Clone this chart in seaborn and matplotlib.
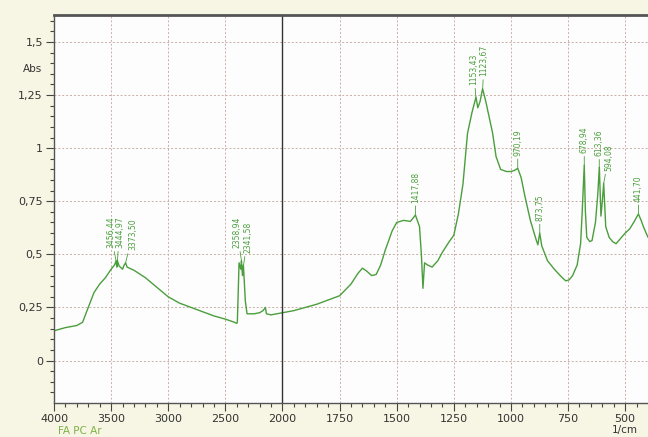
import numpy as np
import pandas as pd
import matplotlib
matplotlib.use("Agg")
import matplotlib.pyplot as plt
import seaborn as sns

# IR spectrum (wavenumber in 1/cm, absorbance)
wavenumber = [
    4000, 3900, 3800, 3750, 3700, 3650, 3600, 3550, 3500, 3470, 3456, 3450,
    3445, 3430, 3400, 3385, 3373, 3360, 3300, 3200, 3100, 3000, 2900, 2800,
    2700, 2600, 2500, 2420, 2400, 2395, 2380, 2365, 2359, 2350, 2342, 2325,
    2310, 2250, 2200, 2170, 2150, 2140, 2100, 2050, 2000, 1950, 1900, 1850,
    1800, 1750, 1700, 1670, 1650, 1630, 1610, 1590, 1570, 1550, 1520, 1500,
    1470, 1440, 1418, 1400, 1392, 1385, 1378, 1365, 1345, 1320, 1300, 1270,
    1250, 1230, 1210, 1190, 1170, 1153, 1145, 1135, 1124, 1110, 1100, 1080,
    1065, 1045, 1020, 1000, 985, 970, 955, 940, 915, 890, 882, 874, 865, 840,
    810, 780, 760, 745, 730, 710, 695, 688, 679, 674, 668, 655, 645, 630,
    620, 613, 606, 600, 594, 585, 570, 555, 540, 520, 500, 480, 460, 442,
    430, 420, 400,
]
absorbance = [
    0.14, 0.155, 0.165, 0.18, 0.25, 0.32, 0.36, 0.39, 0.43, 0.45, 0.47, 0.44,
    0.47, 0.445, 0.43, 0.45, 0.46, 0.44, 0.425, 0.39, 0.345, 0.30, 0.27, 0.25,
    0.23, 0.21, 0.195, 0.18, 0.175, 0.18, 0.46, 0.43, 0.47, 0.40, 0.45, 0.28,
    0.22, 0.22, 0.225, 0.235, 0.25, 0.22, 0.215, 0.22, 0.225, 0.235, 0.25, 0.265,
    0.285, 0.305, 0.36, 0.41, 0.435, 0.42, 0.40, 0.405, 0.45, 0.52, 0.61, 0.65,
    0.66, 0.655, 0.685, 0.63, 0.50, 0.34, 0.46, 0.45, 0.44, 0.47, 0.51, 0.56,
    0.59, 0.69, 0.83, 1.07, 1.17, 1.24, 1.19, 1.22, 1.28, 1.22, 1.17, 1.07,
    0.96, 0.90, 0.89, 0.89, 0.895, 0.905, 0.86, 0.78, 0.66, 0.57, 0.545, 0.60, 0.54, 0.47,
    0.43, 0.395, 0.375, 0.38, 0.40, 0.45, 0.55, 0.70, 0.92, 0.70, 0.58, 0.56, 0.565, 0.65,
    0.78, 0.91, 0.68, 0.75, 0.835, 0.63, 0.58, 0.56, 0.55, 0.575, 0.60, 0.62, 0.655, 0.69,
    0.66, 0.63, 0.58,
]

# labelled peaks
peak_pos = [3456.44, 3444.97, 3373.50, 2358.94, 2341.58, 1417.88, 1153.43,
            1123.67, 970.19, 873.75, 678.94, 613.36, 594.08, 441.70]
peak_text = ["3456,44", "3444,97", "3373,50", "2358,94", "2341,58", "1417,88",
             "1153,43", "1123,67", "970,19", "873,75", "678,94", "613,36",
             "594,08", "441,70"]
peak_shift = [-4, 1.5, 5, -3, 3, 0, -1.5, 1, 0, 0, 0, 0, 3.5, 0]

major_ticks = [4000, 3500, 3000, 2500, 2000, 1750, 1500, 1250, 1000, 750, 500]
y_ticks = [0, 0.25, 0.5, 0.75, 1, 1.25, 1.5]
y_labels = ["0", "0,25", "0,5", "0,75", "1", "1,25", "1,5"]

green = "#4a9e3c"
cream = "#f7f5e3"

sns.set_style("white")
plt.rcParams["font.family"] = ["DejaVu Sans"]


# spectrometer style axis: below 2000 1/cm the scale is doubled
def forward(x):
    x = np.asarray(x, dtype=float)
    return np.where(x >= 2000, x, 2 * x - 2000)


def inverse(u):
    u = np.asarray(u, dtype=float)
    return np.where(u >= 2000, u, (u + 2000) / 2)


df = pd.DataFrame({"wn": wavenumber, "abs": absorbance})

fig = plt.figure(figsize=(6.48, 4.37), dpi=100, facecolor=cream)
ax = fig.add_axes([54 / 648, 1 - 403 / 437, 594 / 648, 388 / 437])
ax.set_facecolor("#fdfdfd")

sns.lineplot(data=df, x="wn", y="abs", ax=ax, color=green, lw=1.0,
             estimator=None, sort=False)

ax.set_xscale("function", functions=(forward, inverse))
ax.set_xlim(4000, 400)
ax.set_ylim(-0.2, 1.627)

minor_x = [v for v in range(2100, 4000, 100) if v % 500] + \
          [v for v in range(450, 2000, 50) if v % 250]
ax.set_xticks(major_ticks)
ax.set_xticklabels([str(t) for t in major_ticks])
ax.set_xticks(minor_x, minor=True)
ax.set_yticks(y_ticks)
ax.set_yticklabels(y_labels)
ax.set_yticks(np.arange(-0.15, 1.65, 0.05), minor=True)

ax.tick_params(axis="both", which="major", direction="out", length=6,
               width=0.8, color="#444444", labelsize=8, labelcolor="#333333",
               bottom=True, left=True, pad=2)
ax.tick_params(axis="both", which="minor", direction="out", length=3,
               width=0.8, color="#444444", bottom=True, left=True)

ax.grid(True, which="major", linestyle=(0, (2, 2)), color="#c9aea6", lw=0.7)
ax.axvline(2000, color="#333333", lw=1.0)

for side in ["top", "left", "bottom"]:
    ax.spines[side].set_color("#555555")
ax.spines["top"].set_linewidth(2.0)
ax.spines["left"].set_linewidth(1.0)
ax.spines["bottom"].set_linewidth(1.0)
ax.spines["right"].set_visible(False)

ax.set_xlabel("")
ax.set_ylabel("")

# peak labels with leader lines
for pos, txt, dx in zip(peak_pos, peak_text, peak_shift):
    yv = np.interp(pos, wavenumber[::-1], absorbance[::-1])
    ax.annotate(txt, xy=(pos, yv), xytext=(dx, 9), textcoords="offset points",
                rotation=90, ha="center", va="bottom", fontsize=5.5,
                color=green,
                arrowprops=dict(arrowstyle="-", color=green, lw=0.6,
                                shrinkA=0, shrinkB=0))

ax.text(-0.02, 1.375, "Abs", transform=ax.get_yaxis_transform(),
        ha="right", va="center", fontsize=7.5, color="#333333")
fig.text(0.985, 0.005, "1/cm", ha="right", va="bottom", fontsize=7.5,
         color="#333333")
fig.text(58 / 648, 0.002, "FA PC Ar", ha="left", va="bottom", fontsize=7.5,
         color="#7fb24a")

plt.savefig("out.png", dpi=100, facecolor=cream)
